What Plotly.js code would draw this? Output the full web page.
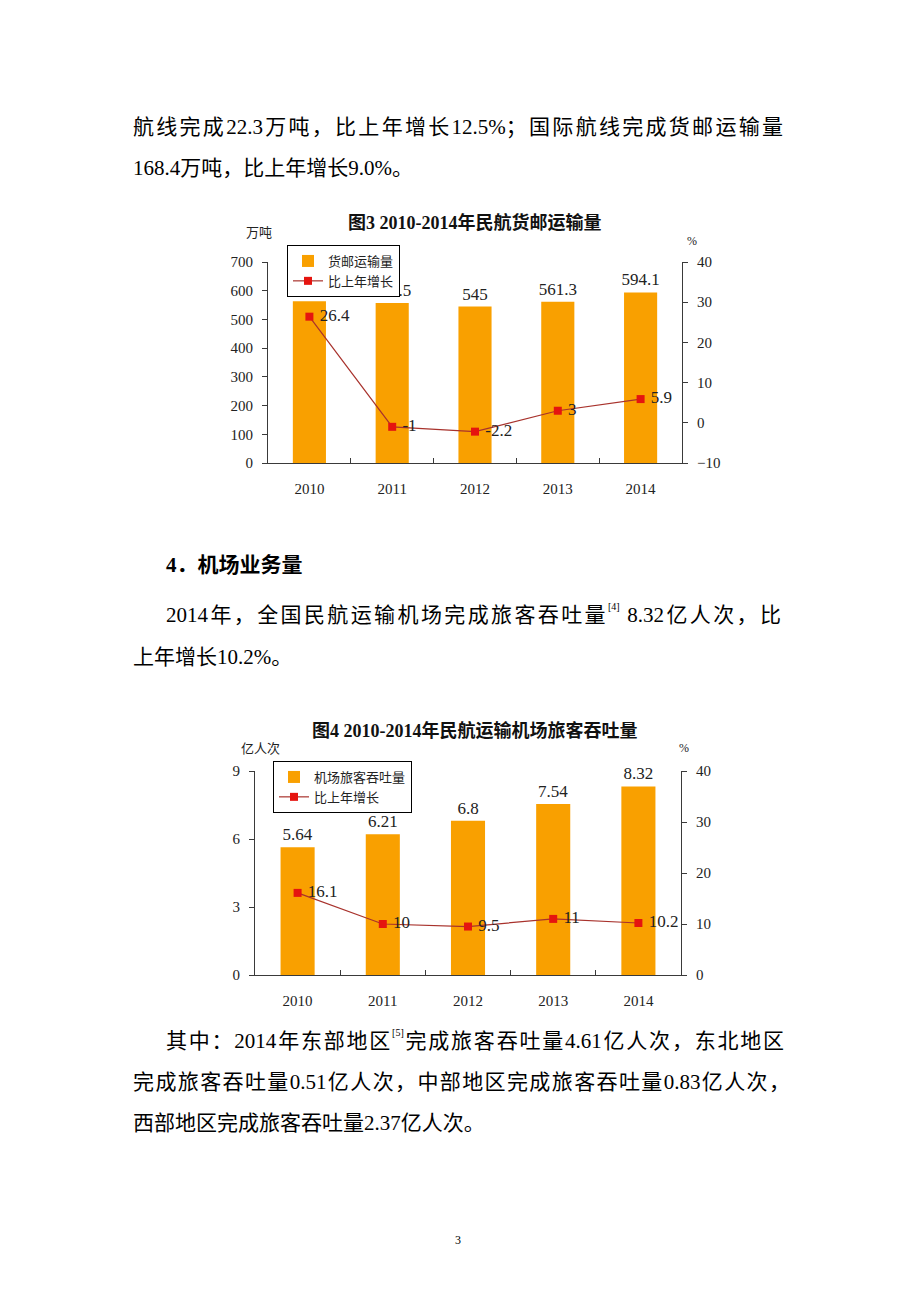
<!DOCTYPE html>
<html><head><meta charset="utf-8">
<script src="https://cdn.plot.ly/plotly-3.0.1.min.js"></script>
<style>
html,body{margin:0;padding:0;background:#fff;}
#page{position:relative;width:920px;height:1302px;overflow:hidden;background:#fff;}
#chart{position:absolute;left:0;top:0;width:920px;height:1302px;}
.t{position:absolute;font-family:"Liberation Serif","Noto Sans CJK SC",serif;font-size:21px;line-height:30px;color:#000;}
.j{text-align:justify;text-align-last:justify;}
.n{white-space:nowrap;}
sup{font-size:10px;vertical-align:top;line-height:10px;position:relative;top:2px;}
</style></head>
<body>
<div id="page">
<div id="chart"></div>
<div class="t j" style="left:133px;top:112px;width:650px;">航线完成22.3万吨，比上年增长12.5%；国际航线完成货邮运输量</div>
<div class="t n" style="left:133px;top:153px;">168.4万吨，比上年增长9.0%。</div>
<div class="t n" style="left:166px;top:550px;font-weight:bold;">4．机场业务量</div>
<div class="t j" style="left:166px;top:600px;width:615px;">2014年，全国民航运输机场完成旅客吞吐量<sup>[4]</sup> 8.32亿人次，比</div>
<div class="t n" style="left:133px;top:642px;">上年增长10.2%。</div>
<div class="t j" style="left:166px;top:1026px;width:618px;">其中：2014年东部地区<sup>[5]</sup>完成旅客吞吐量4.61亿人次，东北地区</div>
<div class="t j" style="left:133px;top:1067px;width:657px;">完成旅客吞吐量0.51亿人次，中部地区完成旅客吞吐量0.83亿人次，</div>
<div class="t n" style="left:133px;top:1108px;">西部地区完成旅客吞吐量2.37亿人次。</div>
<div class="t n" style="left:455px;top:1230px;font-size:12px;line-height:20px;">3</div>
</div>
<script>
// ---- data ----
const years = ['2010', '2011', '2012', '2013', '2014'];
const cargoVolume = [563, 557.5, 545, 561.3, 594.1];
const cargoLabels = ['563', '557.5', '545', '561.3', '594.1'];
const cargoGrowth = [26.4, -1, -2.2, 3, 5.9];
const cargoGrowthLabels = ['26.4', '-1', '-2.2', '3', '5.9'];
const paxVolume = [5.64, 6.21, 6.8, 7.54, 8.32];
const paxLabels = ['5.64', '6.21', '6.8', '7.54', '8.32'];
const paxGrowth = [16.1, 10, 9.5, 11, 10.2];
const paxGrowthLabels = ['16.1', '10', '9.5', '11', '10.2'];
const chart1Title = '图3 2010-2014年民航货邮运输量';
const chart2Title = '图4 2010-2014年民航运输机场旅客吞吐量';
const chart1Names = ['货邮运输量', '比上年增长'];
const chart2Names = ['机场旅客吞吐量', '比上年增长'];

// ---- helpers ----
const W = 920, H = 1302;
const px = v => v / W;
const py = v => 1 - v / H;
const FONT = "'Liberation Serif', 'Noto Sans CJK SC', serif";
const BAR = '#F9A000';
const MARK = '#E5140F';
const LINE = '#A8322C';
const AX = '#3a3a3a';

const traces = [
  {type: 'bar', x: years, y: cargoVolume, xaxis: 'x', yaxis: 'y', name: chart1Names[0], legend: 'legend',
   marker: {color: BAR}, width: 0.4, text: cargoLabels, textposition: 'outside', cliponaxis: false,
   constraintext: 'none', textfont: {family: FONT, size: 17, color: '#222'}, hoverinfo: 'skip'},
  {type: 'scatter', mode: 'lines+markers+text', x: years, y: cargoGrowth, xaxis: 'x', yaxis: 'y2',
   name: chart1Names[1], legend: 'legend', line: {color: LINE, width: 1.2},
   marker: {symbol: 'square', size: 8, color: MARK}, text: cargoGrowthLabels, texttemplate: '\u00a0%{text}',
   textposition: 'middle right',
   cliponaxis: false, textfont: {family: FONT, size: 17, color: '#222'}, hoverinfo: 'skip'},
  {type: 'bar', x: years, y: paxVolume, xaxis: 'x2', yaxis: 'y3', name: chart2Names[0], legend: 'legend2',
   marker: {color: BAR}, width: 0.4, text: paxLabels, textposition: 'outside', cliponaxis: false,
   constraintext: 'none', textfont: {family: FONT, size: 17, color: '#222'}, hoverinfo: 'skip'},
  {type: 'scatter', mode: 'lines+markers+text', x: years, y: paxGrowth, xaxis: 'x2', yaxis: 'y4',
   name: chart2Names[1], legend: 'legend2', line: {color: LINE, width: 1.2},
   marker: {symbol: 'square', size: 8, color: MARK}, text: paxGrowthLabels, texttemplate: '\u00a0%{text}',
   textposition: 'middle right',
   cliponaxis: false, textfont: {family: FONT, size: 17, color: '#222'}, hoverinfo: 'skip'}
];

const tickFont = {family: FONT, size: 15, color: '#222'};
function xax(d0, d1, anchor) {
  return {domain: [px(d0), px(d1)], anchor: anchor, type: 'category', showline: true, linecolor: AX, linewidth: 1,
    ticks: 'inside', tickson: 'boundaries', ticklen: 5, tickcolor: AX, tickfont: tickFont,
    ticklabelstandoff: 12, showgrid: false, zeroline: false, fixedrange: true};
}
function yax(d0, d1, anchor, range, dtick, side, overlay) {
  const a = {anchor: anchor, range: range, dtick: dtick, tick0: 0, showline: true, linecolor: AX, linewidth: 1,
    ticks: 'outside', ticklen: 5, tickcolor: AX, tickfont: tickFont, ticklabelstandoff: 6,
    showgrid: false, zeroline: false, fixedrange: true, side: side};
  if (overlay) a.overlaying = overlay; else a.domain = [py(d1), py(d0)];
  return a;
}

const legendCommon = {bgcolor: '#fff', bordercolor: '#000', borderwidth: 1, xanchor: 'left', yanchor: 'top',
  font: {family: FONT, size: 13, color: '#222'}, traceorder: 'normal', itemwidth: 30, tracegroupgap: 0};

function ann(text, x, y, size, color) {
  return {text: text, x: px(x), y: py(y), xref: 'paper', yref: 'paper', showarrow: false,
    xanchor: 'center', yanchor: 'middle', font: {family: FONT, size: size, color: color}};
}

const layout = {
  width: W, height: H, margin: {l: 0, r: 0, t: 0, b: 0},
  paper_bgcolor: 'rgba(0,0,0,0)', plot_bgcolor: 'rgba(0,0,0,0)', showlegend: true,
  xaxis: xax(268, 682, 'y'),
  yaxis: yax(262, 463, 'x', [0, 700], 100, 'left'),
  yaxis2: yax(262, 463, 'x', [-10, 40], 10, 'right', 'y'),
  xaxis2: xax(255, 681, 'y3'),
  yaxis3: yax(771, 975, 'x2', [0, 9], 3, 'left'),
  yaxis4: yax(771, 975, 'x2', [0, 40], 10, 'right', 'y3'),
  legend: Object.assign({}, legendCommon, {x: px(287), y: py(245)}),
  legend2: Object.assign({}, legendCommon, {x: px(273), y: py(761)}),
  annotations: [
    ann('<b>' + chart1Title + '</b>', 475, 222, 18, '#111'),
    ann('万吨', 259, 233, 13, '#222'),
    ann('%', 692, 241, 12, '#222'),
    ann('<b>' + chart2Title + '</b>', 475, 730, 18, '#111'),
    ann('亿人次', 260, 748, 13, '#222'),
    ann('%', 684, 748, 12, '#222')
  ]
};

Plotly.newPlot('chart', traces, layout, {displayModeBar: false, staticPlot: true});
</script>
</body></html>
